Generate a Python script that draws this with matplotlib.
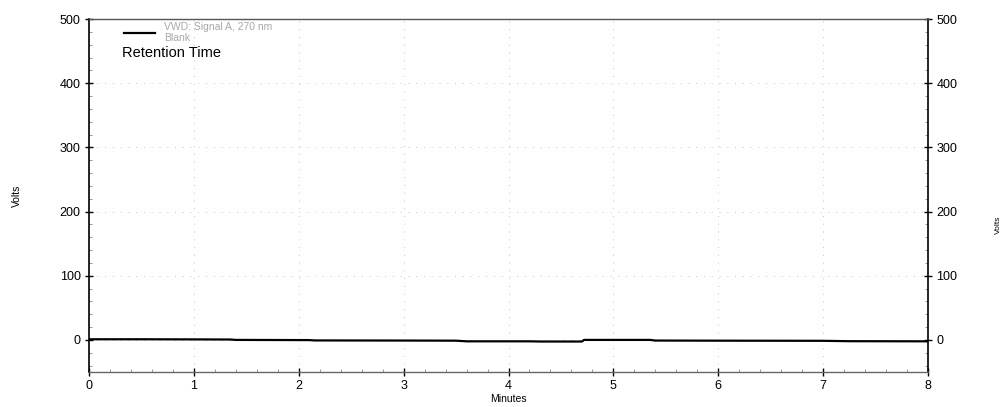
import matplotlib
matplotlib.use("Agg")
import matplotlib.pyplot as plt
from matplotlib.lines import Line2D
from matplotlib.ticker import MultipleLocator

# Data (minutes, volts)
minutes = [0.0, 0.5, 1.0, 1.35, 1.4, 2.1, 2.15, 3.0, 3.5, 3.6, 4.2, 4.3, 4.7, 4.72, 5.35, 5.4, 6.0, 7.0, 7.25, 8.0]
volts   = [1.0, 1.0, 0.8, 0.6, 0.0, -0.3, -0.8, -1.0, -1.2, -2.2, -2.2, -2.5, -2.5, 0.0, 0.0, -1.0, -1.2, -1.4, -2.0, -2.2]

x_ticks = [0, 1, 2, 3, 4, 5, 6, 7, 8]
y_ticks = [0, 100, 200, 300, 400, 500]
legend_label = "VWD: Signal A, 270 nm\nBlank"
title_text = "Retention Time"

plt.rcParams['font.family'] = ['Liberation Sans', 'DejaVu Sans']

fig = plt.figure(figsize=(10.05, 4.07), dpi=100)
ax = fig.add_axes([89/1005, 1-372/407, (928-89)/1005, (372-19)/407])

ax.plot(minutes, volts, color='black', lw=1.6)

ax.set_xlim(0, 8)
ax.set_ylim(-50, 500)
ax.set_xticks(x_ticks)
ax.set_yticks(y_ticks)
ax.xaxis.set_minor_locator(MultipleLocator(0.2))
ax.yaxis.set_minor_locator(MultipleLocator(20))

ax.tick_params(axis='both', which='major', labelsize=9, direction='inout', length=6, width=1, pad=3)
ax.tick_params(axis='both', which='minor', direction='in', length=2, width=0.6, color='#888888')
ax.tick_params(axis='y', which='both', right=True, labelright=True)

ax.grid(True, which='major', color='#c4c4c4', linestyle=(0, (1, 7)), linewidth=0.7)

for s in ['left', 'right']:
    ax.spines[s].set_color('black')
    ax.spines[s].set_linewidth(1.2)
ax.spines['top'].set_color('#555555')
ax.spines['top'].set_linewidth(1.0)
ax.spines['bottom'].set_color('#666666')
ax.spines['bottom'].set_linewidth(1.0)

ax.set_xlabel("Minutes", fontsize=7.5, labelpad=1)
ax.set_ylabel("Volts", fontsize=7.5, labelpad=27)
fig.text(998/1005, 1-225/407, "Volts", rotation=90, fontsize=6, ha='center', va='center')

# legend
handle = Line2D([], [], color='black', lw=1.6)
leg = ax.legend([handle], [legend_label], loc='upper left', bbox_to_anchor=(0.034, 1.008),
                frameon=False, fontsize=7.5, handlelength=3.0, handletextpad=0.9,
                borderaxespad=0.2, labelcolor='#a8a8a8', labelspacing=0.1)
for t in leg.get_texts():
    t.set_linespacing(1.05)
fig.text(122/1005, 1-53/407, title_text, fontsize=10.5, ha='left', va='center')

fig.savefig("out.png", dpi=100)
